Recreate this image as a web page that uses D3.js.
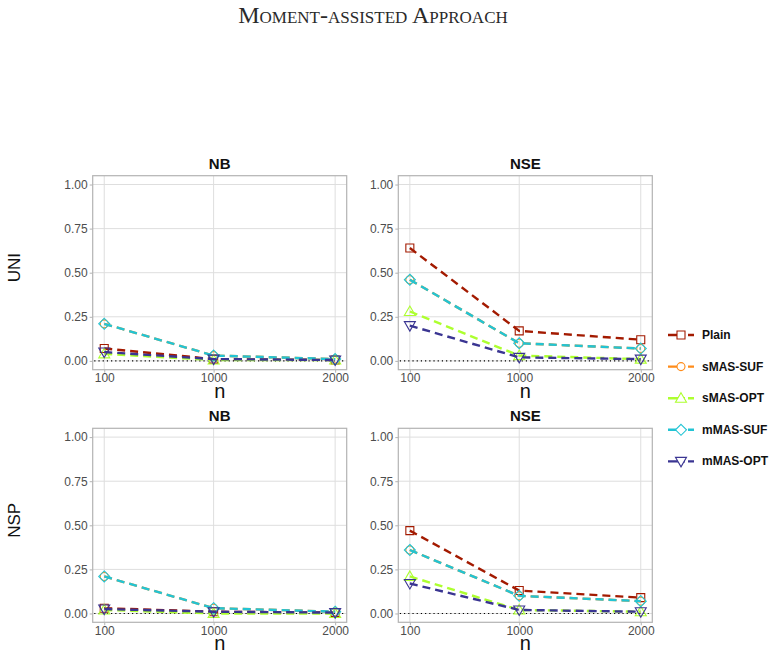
<!DOCTYPE html>
<html>
<head>
<meta charset="utf-8">
<script src="https://cdn.jsdelivr.net/npm/d3@7"></script>
<style>
  body { margin: 0; background: #fff; }
  svg { display: block; font-family: "Liberation Sans", Arial, sans-serif; }
</style>
</head>
<body>
<svg id="chart" width="774" height="655"></svg>
<script>
// data
const nVals = [100, 1000, 2000];
const methods = ["Plain", "sMAS-SUF", "sMAS-OPT", "mMAS-SUF", "mMAS-OPT"];
const rowLabels = ["UNI", "NSP"];
const colLabels = ["NB", "NSE"];
const yTicks = [0, 0.25, 0.5, 0.75, 1];

// one array per method, in the order of `methods`
const uniNB = [
  [0.07, 0.01, 0.005],
  [0.21, 0.03, 0.01],
  [0.04, 0.005, 0.005],
  [0.21, 0.03, 0.01],
  [0.05, 0.01, 0.005]
];
const uniNSE = [
  [0.64, 0.17, 0.12],
  [0.46, 0.10, 0.07],
  [0.28, 0.03, 0.01],
  [0.46, 0.10, 0.07],
  [0.20, 0.02, 0.01]
];
const nspNB = [
  [0.03, 0.01, 0.005],
  [0.21, 0.03, 0.01],
  [0.02, 0.0, 0.0],
  [0.21, 0.03, 0.01],
  [0.025, 0.01, 0.005]
];
const nspNSE = [
  [0.47, 0.13, 0.09],
  [0.36, 0.10, 0.07],
  [0.21, 0.02, 0.01],
  [0.36, 0.10, 0.07],
  [0.17, 0.02, 0.01]
];
const panelData = [[uniNB, uniNSE], [nspNB, nspNSE]];

const colors = ["#a31a00", "#ff8c1a", "#adff2f", "#22c4d4", "#3a3592"];
const symbols = ["square", "circle", "triangle", "diamond", "triangleDown"];

const svg = d3.select("#chart");

// title
svg.append("text")
    .attr("x", 373).attr("y", 23)
    .attr("text-anchor", "middle")
    .style("font-family", "'Liberation Serif', 'DejaVu Serif', serif")
    .style("font-variant", "small-caps")
    .style("font-size", "24px")
    .style("fill", "#2a2a2a")
    .text("Moment-assisted Approach");

const panelW = 254, panelH = 194;
const colX = [92.7, 398.3];
const rowY = [175.7, 428.3];

const x = d3.scaleLinear().domain([5, 2095]).range([0, panelW]);
const y = d3.scaleLinear().domain([-0.05, 1.05]).range([panelH, 0]);

function markerPath(type) {
  if (type === "square") return "M-4,-4H4V4H-4Z";
  if (type === "circle") return d3.symbol(d3.symbolCircle, 50)();
  if (type === "triangle") return "M0,-5.5L5.5,4L-5.5,4Z";
  if (type === "triangleDown") return "M0,5.5L5.5,-4L-5.5,-4Z";
  return "M0,-5.5L5.5,0L0,5.5L-5.5,0Z";
}

const line = d3.line()
    .x(function(d, i) { return x(nVals[i]); })
    .y(function(d) { return y(d); });

rowLabels.forEach(function(rowName, r) {
  // row label on the left
  svg.append("text")
      .attr("transform", "translate(20," + (rowY[r] + panelH / 2 - 5) + ") rotate(-90)")
      .attr("text-anchor", "middle")
      .style("font-size", "17px")
      .style("fill", "#111")
      .text(rowName);

  colLabels.forEach(function(colName, c) {
    const g = svg.append("g")
        .attr("transform", "translate(" + colX[c] + "," + rowY[r] + ")");

    // strip title
    g.append("text")
        .attr("x", panelW / 2).attr("y", -7)
        .attr("text-anchor", "middle")
        .style("font-size", "15px")
        .style("font-weight", "bold")
        .style("fill", "#111")
        .text(colName);

    // grid
    g.selectAll(".hgrid").data(yTicks).enter().append("line")
        .attr("x1", 0).attr("x2", panelW)
        .attr("y1", function(d) { return y(d); })
        .attr("y2", function(d) { return y(d); })
        .style("stroke", "#dedede").style("stroke-width", 1);
    g.selectAll(".vgrid").data(nVals).enter().append("line")
        .attr("y1", 0).attr("y2", panelH)
        .attr("x1", function(d) { return x(d); })
        .attr("x2", function(d) { return x(d); })
        .style("stroke", "#dedede").style("stroke-width", 1);

    // axes
    const yAxis = g.append("g")
        .call(d3.axisLeft(y).tickValues(yTicks).tickSize(3).tickPadding(2)
            .tickFormat(d3.format(".2f")));
    const xAxis = g.append("g")
        .attr("transform", "translate(0," + panelH + ")")
        .call(d3.axisBottom(x).tickValues(nVals).tickSize(3).tickPadding(1)
            .tickFormat(d3.format("d")));
    [xAxis, yAxis].forEach(function(ax) {
      ax.select(".domain").remove();
      ax.selectAll(".tick line").style("stroke", "#b3b3b3");
      ax.selectAll(".tick text").style("font-size", "12px").style("fill", "#4d4d4d")
          .style("font-family", "'Liberation Sans', Arial, sans-serif");
    });

    // x label
    g.append("text")
        .attr("x", panelW / 2).attr("y", panelH + 28)
        .attr("text-anchor", "middle")
        .style("font-size", "20px")
        .style("fill", "#111")
        .text("n");

    // reference line at zero
    g.append("line")
        .attr("x1", x(nVals[0]) - 10).attr("x2", x(nVals[2]) + 10)
        .attr("y1", y(0)).attr("y2", y(0))
        .style("stroke", "#000").style("stroke-width", 1.2)
        .style("stroke-dasharray", "1.2,3");

    // series
    const series = panelData[r][c];
    series.forEach(function(vals, m) {
      g.append("path")
          .datum(vals)
          .attr("d", line)
          .style("fill", "none")
          .style("stroke", colors[m])
          .style("stroke-width", 2.4)
          .style("stroke-dasharray", "8,5");
      g.selectAll(".pt" + m).data(vals).enter().append("path")
          .attr("transform", function(d, i) { return "translate(" + x(nVals[i]) + "," + y(d) + ")"; })
          .attr("d", markerPath(symbols[m]))
          .style("fill", "none")
          .style("stroke", colors[m])
          .style("stroke-width", 1.1);
    });

    // panel border
    g.append("rect")
        .attr("width", panelW).attr("height", panelH)
        .style("fill", "none")
        .style("stroke", "#b3b3b3").style("stroke-width", 1.2);
  });
});

// legend
const legend = svg.append("g").attr("transform", "translate(668,335)");
methods.forEach(function(name, m) {
  const item = legend.append("g").attr("transform", "translate(0," + (m * 31.6) + ")");
  item.append("line")
      .attr("x1", 0).attr("x2", 26)
      .style("stroke", colors[m]).style("stroke-width", 2.4)
      .style("stroke-dasharray", "17,3,6");
  item.append("path")
      .attr("transform", "translate(13,0)")
      .attr("d", markerPath(symbols[m]))
      .style("fill", "#fff")
      .style("stroke", colors[m])
      .style("stroke-width", 1.1);
  item.append("text")
      .attr("x", 34).attr("y", 4)
      .style("font-size", "12px")
      .style("font-weight", "bold")
      .style("fill", "#111")
      .text(name);
});
</script>
</body>
</html>
